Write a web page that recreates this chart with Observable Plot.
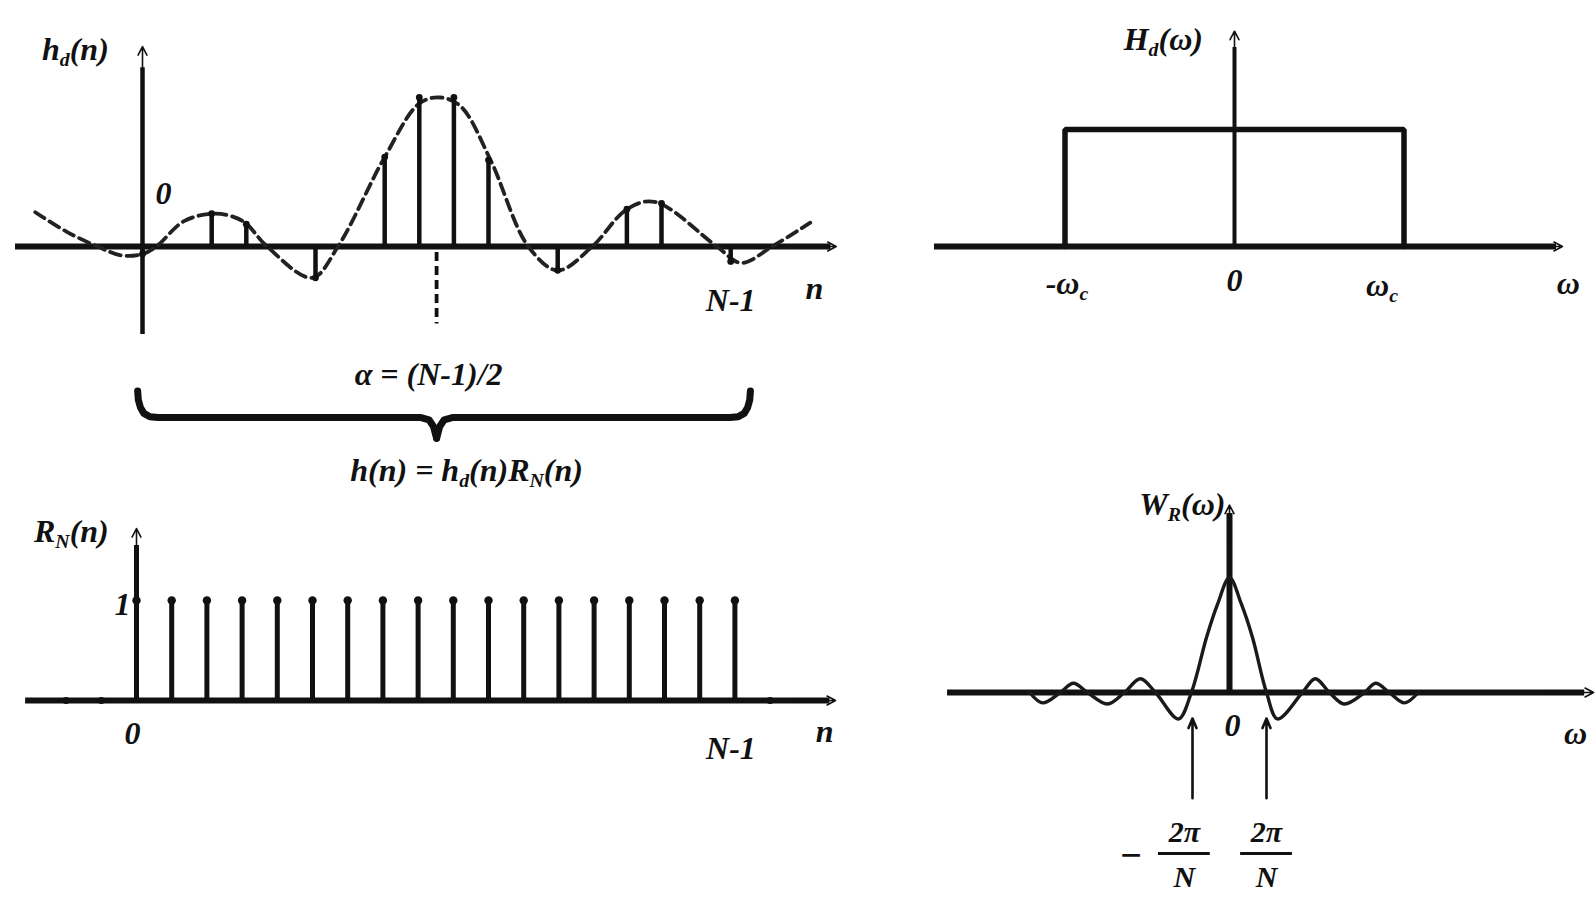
<!DOCTYPE html>
<html>
<head>
<meta charset="utf-8">
<script src="https://cdn.jsdelivr.net/npm/d3@7"></script>
<script src="https://cdn.jsdelivr.net/npm/@observablehq/plot@0.6"></script>
<style>
  html, body { margin: 0; padding: 0; background: #fff; }
  #fig { position: relative; width: 1596px; height: 907px; overflow: hidden; background: #fff; }
  #fig svg.panel { position: absolute; }
</style>
</head>
<body>
<div id="fig"></div>
<script>
// ---------- ideal impulse response h_d(n) ----------
const hdN   = [0, 2, 3, 5, 7, 8, 9, 10, 12, 14, 15, 17];
const hdVal = [-0.05, 0.22, 0.15, -0.21, 0.60, 1.0, 1.0, 0.58, -0.16, 0.25, 0.29, -0.10];
// dashed sinc-like envelope through the samples
const envN   = [-3.1, -2.2, -1.3, -0.6, 0, 0.4, 1.2, 2.1, 2.9, 3.6, 4.9, 5.65, 7.0, 8.0, 8.6, 9.2, 10.06, 11.15, 12.0, 13.0, 14.0, 14.8, 16.6, 17.3, 18.2, 19.3];
const envVal = [0.23, 0.10, 0, -0.06, -0.05, 0, 0.17, 0.22, 0.17, 0, -0.21, 0, 0.60, 0.96, 1.0, 0.94, 0.58, 0, -0.16, 0, 0.25, 0.30, 0, -0.11, 0, 0.16];

// ---------- rectangular window R_N(n), N = 18 ----------
const rnN   = [0, 1, 2, 3, 4, 5, 6, 7, 8, 9, 10, 11, 12, 13, 14, 15, 16, 17];
const rnVal = [1, 1, 1, 1, 1, 1, 1, 1, 1, 1, 1, 1, 1, 1, 1, 1, 1, 1];
const rnZeroN   = [-2, -1, 18];
const rnZeroVal = [0, 0, 0];

// ---------- ideal low-pass H_d(ω), cutoff ω_c = 1 ----------
const hdOmega = [-1, -1, 1, 1];
const hdGain  = [0, 1, 1, 0];

// ---------- window spectrum W_R(ω), ω in units of 2π/N ----------
const wrU   = [-5.4, -5.05, -4.57, -4.22, -3.84, -3.30, -2.84, -2.41, -2.0, -1.38, -1.03, -0.62, -0.32, 0,
               0.32, 0.62, 1.0, 1.30, 1.97, 2.32, 2.70, 3.10, 3.65, 3.95, 4.32, 4.73, 5.1];
const wrAmp = [0, -0.09, 0, 0.08, 0, -0.10, 0, 0.12, 0, -0.23, 0, 0.48, 0.77, 1,
               0.77, 0.48, 0, -0.23, 0, 0.12, 0, -0.10, 0, 0.08, 0, -0.09, 0];
const wrMarkU = [-1, 1];            // ±2π/N
const wrMarkSign = ["\u2212", ""];

// ---------- labels ----------
const nTickText = ["0", "N-1"];
const omegaTickText = ["-ω_{c}", "0", "ω_{c}"];

const N = rnN.length;
const alpha = (N - 1) / 2;

const INK = "#111";
const FONT = "'Liberation Serif', 'Times New Roman', serif";

const label = (texts, opts) => Plot.text(texts, {
  text: d => d, fontFamily: FONT, fontSize: 32, fontWeight: "bold",
  fontStyle: "italic", fill: INK, ...opts
});
const axisTip = (x1, y1, x2, y2, sw = 1.6) =>
  Plot.arrow([null], {x1, y1, x2, y2, stroke: INK, strokeWidth: sw, headLength: 9, headAngle: 55});

// turn "a_{b}" into a subscript tspan
function subscripts(svg) {
  svg.querySelectorAll("text").forEach(t => {
    const s = t.textContent;
    if (!s.includes("_{")) return;
    const parts = s.split(/_\{([^}]*)\}/);
    t.textContent = "";
    parts.forEach((p, i) => {
      if (!p) return;
      const ts = document.createElementNS("http://www.w3.org/2000/svg", "tspan");
      ts.textContent = p;
      if (i % 2 === 1) {
        ts.setAttribute("font-size", "0.62em");
        ts.setAttribute("dy", "0.32em");
      } else if (i > 0) {
        ts.setAttribute("dy", "-0.2em");
      }
      t.appendChild(ts);
    });
  });
}

function panel({left, top, width, height, x0, xStep, y0, yStep, marks}) {
  const svg = Plot.plot({
    width, height, margin: 0,
    x: {domain: [-x0 / xStep, (width - x0) / xStep], axis: null},
    y: {domain: [(y0 - height) / yStep, y0 / yStep], axis: null},
    style: {background: "transparent", overflow: "visible"},
    marks
  });
  svg.classList.add("panel");
  svg.style.left = left + "px";
  svg.style.top = top + "px";
  subscripts(svg);
  document.getElementById("fig").append(svg);
}

// ===== panel: h_d(n) with brace and window relation =====
const hdData = hdN.map((n, i) => ({n, v: hdVal[i]}));
const envData = envN.map((n, i) => ({n, v: envVal[i]}));

// curly brace spanning the window support, pointing at α
const braceY = -1.148, braceEnd = -0.97, braceTip = -1.288;
const bL = rnN[0] - 0.14, bR = rnN[N - 1] + 0.57;
const braceCurl = [[0, 0], [0.02, -0.06], [0.08, -0.11], [0.18, -0.15], [0.35, -0.172], [0.6, -0.178]];
const braceHalf = (end, dir) => [
  ...braceCurl.map(([dn, dv]) => ({n: end + dir * dn, v: braceEnd + dv})),
  {n: alpha - dir * 0.45, v: braceY},
  {n: alpha - dir * 0.22, v: braceY - 0.015},
  {n: alpha - dir * 0.09, v: braceY - 0.06},
  {n: alpha, v: braceTip}
];
const braceLeft = braceHalf(bL, 1);
const braceRight = braceHalf(bR, -1);

panel({
  left: 0, top: 0, width: 850, height: 500, x0: 142, xStep: 34.6, y0: 246, yStep: 149,
  marks: [
    Plot.ruleY([0], {x1: -3.67, x2: 19.9, stroke: INK, strokeWidth: 6}),
    axisTip(18.9, 0, 20.05, 0),
    Plot.ruleX([0], {y1: -0.59, y2: 1.2, stroke: INK, strokeWidth: 4.5}),
    axisTip(0, 1.0, 0, 1.342),
    Plot.line(envData, {x: "n", y: "v", curve: "catmull-rom", stroke: "#222", strokeWidth: 3.8, strokeDasharray: "11,6"}),
    Plot.ruleX(hdData, {x: "n", y1: 0, y2: "v", stroke: INK, strokeWidth: 4.5}),
    Plot.dot(hdData, {x: "n", y: "v", r: 3.4, fill: INK}),
    Plot.ruleX([alpha], {y1: -0.04, y2: -0.52, stroke: INK, strokeWidth: 3.8, strokeDasharray: "9,5"}),
    Plot.line(braceLeft, {x: "n", y: "v", stroke: INK, strokeWidth: 7}),
    Plot.line(braceRight, {x: "n", y: "v", stroke: INK, strokeWidth: 7}),
    label(["h_{d}(n)"], {x: -1.94, y: 1.32}),
    label([nTickText[0]], {x: 0, y: 0, dx: 21, dy: -53}),
    label([nTickText[1]], {x: N - 1, y: 0, dy: 54}),
    label(["n"], {x: 19.42, y: 0, dy: 42}),
    label(["α = (N-1)/2"], {x: alpha, y: 0, dx: -8, dy: 128}),
    label(["h(n) = h_{d}(n)R_{N}(n)"], {x: alpha, y: 0, dx: 30, dy: 224})
  ]
});

// ===== panel: rectangular window R_N(n) =====
const rnData = rnN.map((n, i) => ({n, v: rnVal[i]}));
const rnZero = rnZeroN.map((n, i) => ({n, v: rnZeroVal[i]}));
panel({
  left: 0, top: 500, width: 850, height: 270, x0: 136, xStep: 35.2, y0: 200, yStep: 100,
  marks: [
    Plot.ruleY([0], {x1: -3.15, x2: 19.7, stroke: INK, strokeWidth: 6}),
    axisTip(18.7, 0, 19.86, 0),
    Plot.ruleX([0], {y1: 0, y2: 1.55, stroke: INK, strokeWidth: 5}),
    axisTip(0, 1.3, 0, 1.72),
    Plot.ruleX(rnData, {x: "n", y1: 0, y2: "v", stroke: INK, strokeWidth: 5}),
    Plot.dot(rnData, {x: "n", y: "v", r: 4.2, fill: INK}),
    Plot.dot(rnZero, {x: "n", y: "v", r: 3.6, fill: INK}),
    label(["R_{N}(n)"], {x: -1.85, y: 1.69}),
    label(["1"], {x: 0, y: 1, dx: -14, dy: 4}),
    label([nTickText[0]], {x: 0, y: 0, dx: -4, dy: 33}),
    label([nTickText[1]], {x: N - 1, y: 0, dx: -4, dy: 48}),
    label(["n"], {x: 19.55, y: 0, dy: 31})
  ]
});

// ===== panel: ideal low-pass H_d(ω) =====
const hdSpec = hdOmega.map((w, i) => ({w, g: hdGain[i]}));
panel({
  left: 900, top: 0, width: 696, height: 320, x0: 334, xStep: 169.5, y0: 246, yStep: 117,
  marks: [
    Plot.ruleY([0], {x1: -1.77, x2: 1.9, stroke: INK, strokeWidth: 6}),
    axisTip(1.7, 0, 1.935, 0),
    Plot.ruleX([0], {y1: 0, y2: 1.7, stroke: INK, strokeWidth: 4}),
    axisTip(0, 1.4, 0, 1.84),
    Plot.line(hdSpec, {x: "w", y: "g", stroke: INK, strokeWidth: 5.5, strokeLinejoin: "miter"}),
    label(["H_{d}(ω)"], {x: -0.42, y: 1.77}),
    label([omegaTickText[0]], {x: hdOmega[0], y: 0, dx: 2, dy: 37}),
    label([omegaTickText[1]], {x: 0, y: 0, dy: 34}),
    label([omegaTickText[2]], {x: hdOmega[3], y: 0, dx: -22, dy: 39}),
    label(["ω"], {x: 1.97, y: 0, dy: 37})
  ]
});

// ===== panel: window spectrum W_R(ω) =====
const wrData = wrU.map((u, i) => ({u, a: wrAmp[i]}));
const fracX = wrMarkU.map(u => u + (u < 0 ? -0.22 : 0));
panel({
  left: 900, top: 470, width: 696, height: 437, x0: 329, xStep: 37, y0: 222, yStep: 115,
  marks: [
    Plot.ruleY([0], {x1: -7.62, x2: 9.6, stroke: INK, strokeWidth: 6}),
    axisTip(8.6, 0, 9.84, 0),
    Plot.ruleX([0], {y1: 0, y2: 1.557, stroke: INK, strokeWidth: 6}),
    axisTip(0, 1.3, 0, 1.63),
    Plot.line(wrData, {x: "u", y: "a", curve: "catmull-rom", stroke: "#1a1a1a", strokeWidth: 3.4}),
    ...wrMarkU.map(u => Plot.arrow([null], {x1: u, y1: -0.92, x2: u, y2: -0.226, stroke: INK, strokeWidth: 2.6, headLength: 6, headAngle: 45})),
    label(["W_{R}(ω)"], {x: 0, y: 1.635, dx: -4, textAnchor: "end"}),
    label(["0"], {x: 0.08, y: -0.287}),
    label(["ω"], {x: 9.35, y: -0.357}),
    ...wrMarkU.map((u, i) => label(["2π"], {x: fracX[i], y: -1.22, fontSize: 30})),
    ...wrMarkU.map((u, i) => Plot.ruleY([-1.4], {x1: fracX[i] - 0.7, x2: fracX[i] + 0.7, stroke: INK, strokeWidth: 3.2})),
    ...wrMarkU.map((u, i) => label(["N"], {x: fracX[i], y: -1.61, fontSize: 30})),
    ...wrMarkU.map((u, i) => label([wrMarkSign[i]], {x: fracX[i] - 1.45, y: -1.42, fontSize: 38}))
  ]
});
</script>
</body>
</html>
